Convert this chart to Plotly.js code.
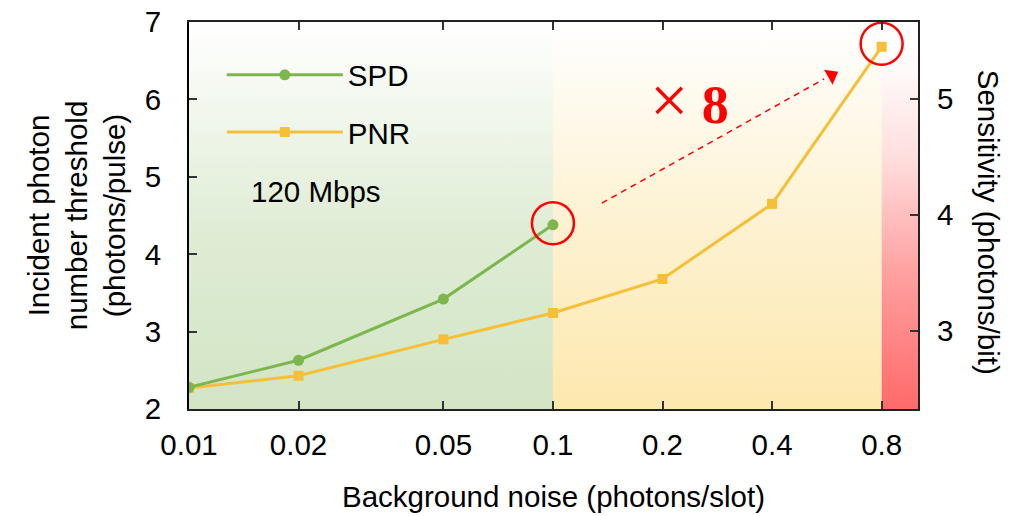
<!DOCTYPE html>
<html>
<head>
<meta charset="utf-8">
<script src="https://cdn.plot.ly/plotly-3.0.1.min.js"></script>
<style>html,body{margin:0;padding:0;background:#fff;}#chart{width:1012px;height:516px;}</style>
</head>
<body>
<div id="chart"></div>
<script>
// ---- data ----
const noise = [0.01, 0.02, 0.05, 0.1, 0.2, 0.4, 0.8];
const spdNoise = [0.01, 0.02, 0.05, 0.1];
const spdThreshold = [2.28, 2.63, 3.42, 4.38];
const pnrThreshold = [2.27, 2.43, 2.90, 3.24, 3.68, 4.65, 6.68];
const xTickVals = [0.01, 0.02, 0.05, 0.1, 0.2, 0.4, 0.8];
const xTickText = ['0.01', '0.02', '0.05', '0.1', '0.2', '0.4', '0.8'];
const leftRange = [2, 7];
const leftTicks = [2, 3, 4, 5, 6, 7];
const rightRange = [2.328, 5.664];
const rightTicks = [3, 4, 5];
// background regions (noise boundaries) and their colours
const regionEdges = [0.01, 0.1, 0.8, 1.007];
const regionColors = [
  [[0, '#d3e5c5'], [0.45, '#deecd4'], [1, '#ffffff']],
  [[0, '#fde8ae'], [0.45, '#fdf1cf'], [1, '#ffffff']],
  [[0, '#ff6a6a'], [0.35, '#ffa0a0'], [0.65, '#ffdede'], [0.88, '#fffafa'], [1, '#ffffff']]
];
// arrow annotation (start, end of dashed line, head position)
const arrowX = [0.1363, 0.556];
const arrowY = [4.66, 6.265];
const arrowHead = {x: 0.583, y: 6.31, angle: 61};

const FONT = '"Liberation Sans", Arial, sans-serif';
const FS = 29.5;
const SPD_C = '#7db64d';
const PNR_C = '#f5c038';

const traces = [];
for (let i = 0; i < 3; i++) {
  const a = regionEdges[i], b = regionEdges[i + 1];
  traces.push({
    x: [a, b, b, a, a], y: [leftRange[0], leftRange[0], leftRange[1], leftRange[1], leftRange[0]],
    mode: 'none', fill: 'toself',
    fillgradient: {type: 'vertical', colorscale: regionColors[i], start: leftRange[0], stop: leftRange[1]},
    hoverinfo: 'skip', showlegend: false
  });
}
// empty trace so that the right-hand (sensitivity) axis is drawn
traces.push({x: [], y: [], yaxis: 'y2', mode: 'markers', showlegend: false, hoverinfo: 'skip'});
traces.push({
  x: noise, y: pnrThreshold, name: 'PNR', mode: 'lines+markers',
  line: {color: PNR_C, width: 3}, marker: {symbol: 'square', size: 10, color: PNR_C},
  legendrank: 2, legendgroup: 'b'
});
traces.push({
  x: spdNoise, y: spdThreshold, name: 'SPD', mode: 'lines+markers',
  line: {color: SPD_C, width: 3}, marker: {symbol: 'circle', size: 11, color: SPD_C},
  legendrank: 1, legendgroup: 'a'
});
// red highlight circles on the last SPD point and last PNR point
traces.push({
  x: [spdNoise[spdNoise.length - 1], noise[noise.length - 1]],
  y: [spdThreshold[spdThreshold.length - 1] + 0.02, pnrThreshold[pnrThreshold.length - 1] + 0.04],
  mode: 'markers', showlegend: false, hoverinfo: 'skip', cliponaxis: false,
  marker: {symbol: 'circle-open', size: 42, color: '#ff0000', line: {color: '#ff0000', width: 2.5}}
});
traces.push({
  x: arrowX, y: arrowY, mode: 'lines', showlegend: false, hoverinfo: 'skip',
  line: {color: '#ff0000', width: 1.5, dash: '6px,5px'}
});
traces.push({
  x: [arrowHead.x], y: [arrowHead.y], mode: 'markers', showlegend: false, hoverinfo: 'skip',
  marker: {symbol: 'triangle-up', size: 15, angle: arrowHead.angle, color: '#ff0000'}
});

const layout = {
  width: 1012, height: 516,
  margin: {l: 189, r: 94, t: 22, b: 107},
  paper_bgcolor: '#ffffff', plot_bgcolor: '#ffffff',
  font: {family: FONT, size: FS, color: '#000'},
  showlegend: true,
  legend: {
    x: 0.045, y: 0.93, xanchor: 'left', yanchor: 'top',
    bgcolor: 'rgba(0,0,0,0)', borderwidth: 0,
    font: {family: FONT, size: FS, color: '#000'},
    itemwidth: 116, traceorder: 'grouped', tracegroupgap: 16
  },
  xaxis: {
    type: 'log', range: [-2, 0.003],
    tickvals: xTickVals, ticktext: xTickText,
    ticks: 'inside', ticklen: 8, tickwidth: 2, tickcolor: '#333',
    showline: true, linecolor: '#222', linewidth: 2, mirror: 'ticks',
    showgrid: false, zeroline: false,
    ticklabelstandoff: 9,
    tickfont: {family: FONT, size: FS, color: '#000'},
    title: {text: 'Background noise (photons/slot)', font: {family: FONT, size: FS, color: '#000'}, standoff: 26}
  },
  yaxis: {
    range: leftRange, tickvals: leftTicks,
    ticks: 'inside', ticklen: 8, tickwidth: 2, tickcolor: '#333',
    showline: true, linecolor: '#000', linewidth: 2, mirror: false,
    showgrid: false, zeroline: false,
    ticklabelstandoff: 20,
    tickfont: {family: FONT, size: FS, color: '#000'},
    title: {text: 'Incident photon<br>number threshold<br>(photons/pulse)', font: {family: FONT, size: FS, color: '#000'}, standoff: 10}
  },
  yaxis2: {
    overlaying: 'y', side: 'right',
    range: rightRange, tickvals: rightTicks,
    ticks: 'inside', ticklen: 8, tickwidth: 2, tickcolor: '#333',
    showline: true, linecolor: '#222', linewidth: 2,
    showgrid: false, zeroline: false,
    ticklabelstandoff: 11,
    tickfont: {family: FONT, size: FS, color: '#000'}
  },
  annotations: [
    {xref: 'paper', yref: 'paper', x: 1.097, y: 0.482, text: 'Sensitivity (photons/bit)', textangle: 90,
     showarrow: false, xanchor: 'center', yanchor: 'middle', font: {family: FONT, size: FS, color: '#000'}},
    {xref: 'paper', yref: 'paper', x: 0.174, y: 0.561, text: '120 Mbps', showarrow: false,
     xanchor: 'center', yanchor: 'middle', font: {family: FONT, size: FS, color: '#000'}},
    {xref: 'paper', yref: 'paper', x: 0.686, y: 0.798, text: '<span style="font-size:68px">×</span> <b>8</b>', showarrow: false,
     xanchor: 'center', yanchor: 'middle', font: {family: '"Liberation Serif", "Times New Roman", serif', size: 54, color: '#ff0000'}}
  ]
};

Plotly.newPlot('chart', traces, layout, {displayModeBar: false, staticPlot: true});
</script>
</body>
</html>
